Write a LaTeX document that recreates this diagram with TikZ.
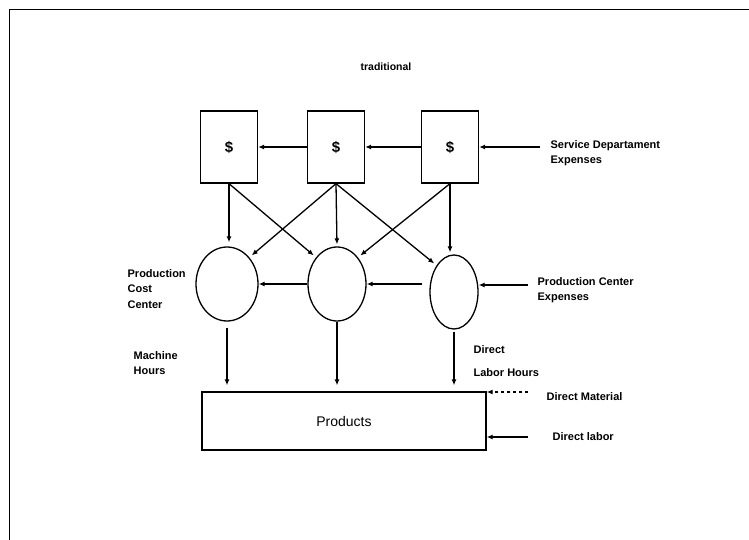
\documentclass[tikz,border=0pt]{standalone}
\usepackage{fontspec}
\setmainfont{Liberation Sans}
\usetikzlibrary{positioning,arrows.meta,shapes.geometric}

\begin{document}
\begin{tikzpicture}[x=1pt, y=-1pt, line width=1.3pt,
    >={Latex[length=6pt,width=5pt]},
    costbox/.style={draw, minimum width=57pt, minimum height=72pt, inner sep=0pt, font=\fontsize{15}{15}\bfseries},
    costcenter/.style={draw, ellipse, inner sep=0pt, minimum height=74pt},
    lbl/.style={font=\fontsize{11}{15.5}\bfseries, align=left, anchor=west, inner sep=0pt}]

    \useasboundingbox (0,0) rectangle (749,540);
    \draw[line width=1pt] (9,540) -- (9,10) -- (749,10);

    \node[font=\fontsize{10.5}{10.5}\bfseries] (title) at (386,67) {traditional};

    % service departments
    \node[costbox] (s1) at (229,147) {\$};
    \node[costbox] (s2) at (336,147) {\$};
    \node[costbox] (s3) at (450,147) {\$};

    % production cost centers
    \node[costcenter, minimum width=62pt] (p1) at (227,284) {};
    \node[costcenter, minimum width=58pt] (p2) at (337,284) {};
    \node[costcenter, minimum width=48pt] (p3) at (454,292) {};

    \node[draw, minimum width=284pt, minimum height=58pt, font=\fontsize{14}{14}\selectfont] (prod) at (344,421) {Products};

    \coordinate (sde) at (540,147);
    \coordinate (pce) at (528,285);
    \coordinate (dm) at (528,392);
    \coordinate (dl) at (528,437);

    \draw[->] (s2.west) -- (s1.east);
    \draw[->] (s3.west) -- (s2.east);
    \draw[->] (sde) -- (sde -| s3.east);

    \draw[->, shorten >=4pt] (s1.south) -- (s1.south |- p1.north);
    \draw[->, shorten >=3pt] (s1.south) -- (p2.north west);
    \draw[->, shorten >=3pt] (s2.south) -- (p1.north east);
    \draw[->, shorten >=2pt] (s2.south) -- (p2.north);
    \draw[->, shorten >=3pt] (s2.south) -- (p3.north west);
    \draw[->, shorten >=3pt] (s3.south) -- (p2.north east);
    \draw[->, shorten >=2pt] (s3.south) -- (s3.south |- p3.north);

    \draw[->] (p2.west) -- (p2.west -| p1.east);
    \draw[->, shorten <=7pt] (p3.west |- p2.east) -- (p2.east);
    \draw[->] (pce) -- (pce -| p3.east);

    \draw[->, shorten <=6pt, shorten >=6pt] (p1.south) -- (p1.south |- prod.north);
    \draw[->, shorten >=6pt] (p2.south) -- (p2.south |- prod.north);
    \draw[->, shorten <=2pt, shorten >=6pt] (p3.south) -- (p3.south |- prod.north);

    \draw[->, dashed] (dm) -- (dm -| prod.east);
    \draw[->] (dl) -- (dl -| prod.east);

    % labels
    \node[lbl] (sdel) at (550,153) {Service Departament\\Expenses};
    \node[lbl] (pcel) at (537,290) {Production Center\\Expenses};
    \node[lbl] (pccl) at (127,289) {Production\\Cost\\Center};
    \node[lbl] (mhl) at (133,363) {Machine\\Hours};
    \node[lbl] (dlhl) at (473,361) {Direct\\[8pt]Labor Hours};
    \node[lbl] (dml) at (546,397) {Direct Material};
    \node[lbl] (dll) at (552,437) {Direct labor};
\end{tikzpicture}
\end{document}
